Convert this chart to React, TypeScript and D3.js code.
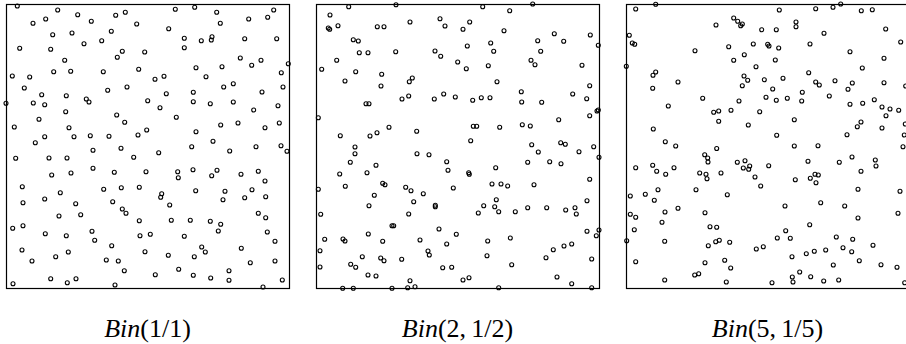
import * as d3 from 'd3';
import React, { useEffect, useRef } from 'react';

// point positions inside each unit box (0..283 across, 0..284 down from the top edge)
const binOne: [number, number][] = [
  [11.3, 2], [51.7, 6], [71.7, 10.7], [109.7, 11.3], [119.3, 8.3], [39.7, 15], [27, 19.3], [85.3, 17.3],
  [130.7, 20], [105.3, 27.3], [46.7, 30.7], [66, 29], [95.7, 36.7], [78, 39.7], [13.7, 44.3], [44.7, 45.3],
  [116.3, 47.3], [138.7, 48], [111.3, 53.3], [58.7, 56.3], [132.7, 65.3], [47.7, 67.7], [64.7, 67.3],
  [97.3, 67.7], [6.3, 72], [23.7, 73], [18.3, 84], [101.7, 86.3], [121, 83], [35.7, 90.7], [60.3, 91.7],
  [80.3, 95], [83, 98], [0, 99.3], [27.3, 99], [38.7, 100.7], [141.7, 96.7], [59.7, 107.7], [110.7, 111],
  [33, 115.3], [118.7, 118.3], [8.3, 123], [63, 123.7], [140.7, 126], [38.7, 132.7], [68, 132.7],
  [84.3, 131.7], [103, 132.3], [132, 131], [29.3, 138.7],
  [169.3, 5.3], [188.7, 3.3], [210.7, 8.3], [267.7, 6], [242.7, 15], [261.7, 13.3], [214.3, 19.3],
  [162.7, 24.7], [178.3, 34.3], [206, 32.7], [205.3, 36], [195.3, 36.7], [238.7, 34.7], [270.7, 34.7],
  [178.3, 43.7], [234.3, 54], [255, 56.3], [245.7, 61.3], [282.3, 59.7], [190, 63.7], [216, 62.7],
  [275.3, 68.7], [158, 72.3], [149, 75.3], [200, 72.7], [227.3, 79.7], [217.7, 83], [277, 83],
  [160.3, 89.7], [187.3, 88.3], [256, 88], [187.3, 97.7], [204.3, 99.7], [227.3, 98], [154, 103.7],
  [247.7, 106], [272, 101.7], [170.3, 113.3], [214.7, 121], [232, 119], [259, 123.7], [273.3, 119],
  [190, 127.7], [207, 137.3],
  [87, 146.3], [115, 144.3], [9.7, 154.3], [43, 154], [61, 154], [127.7, 153.3], [87, 164.3], [45.7, 171],
  [65, 169], [108.3, 168.3], [140, 167.7], [16.3, 182.7], [54.3, 188.7], [97.7, 185.3], [115.3, 183.7],
  [133.3, 183.3], [38.7, 195], [17, 198.7], [69.7, 199.7], [106.7, 197.7], [116.3, 205], [120, 209.3],
  [53, 212], [74.7, 210.7], [133.3, 216.7], [6.7, 224.3], [17, 221.7], [39.3, 229.7], [60.3, 231.7],
  [86, 227.3], [88.7, 236.3], [134, 231.7], [105.7, 241.7], [16, 246], [62.3, 248], [49.7, 252.7],
  [139, 247.7], [26, 257], [100.3, 256], [112.3, 257], [118.3, 266.7], [44.7, 274.7], [61.3, 278.7],
  [70, 274.7], [7, 279.7], [109, 281],
  [152.7, 148.7], [185.7, 142.7], [223.7, 147], [250, 142.7], [275, 141.7], [281, 147.3], [171.7, 167.7],
  [172.3, 173.7], [187, 165.7], [211, 166.3], [205.7, 171.7], [235, 170.3], [252.3, 167.3], [259, 177],
  [189.7, 186.7], [155.7, 189.7], [154.7, 193.3], [163.7, 201], [219, 187.3], [217, 195.7], [246, 185.7],
  [238.7, 193.7], [259.7, 192.7], [252.3, 209.3], [259.7, 213.7], [165.3, 216.3], [184.3, 216.3],
  [204.3, 217.3], [214.7, 220.3], [212.3, 227], [144.3, 230.3], [178.3, 232.3], [261.3, 228], [269, 237.3],
  [195.7, 243], [199.3, 248], [235.3, 244.3], [162.3, 251.3], [188.3, 252.7], [244.3, 258.7], [269, 257],
  [172.7, 265.3], [223, 266.7], [149.3, 270.7], [187.3, 271.3], [204.7, 274], [223, 276.3], [276.3, 276],
  [257, 283],
];

const binTwo: [number, number][] = [
  [32.7, 2.7], [80, 0.7], [14, 11], [12.3, 24], [13.7, 25.3], [22, 21.7], [61.3, 22.7], [68, 22.7],
  [94, 18], [124, 14.7], [129, 22], [37.3, 35.7], [42.3, 37], [43.3, 48.7], [52, 48.7], [79.7, 47.7],
  [119, 47], [124.7, 52.3], [141.7, 58], [20.7, 56.3], [5.7, 65.3], [39.7, 67.7], [65.7, 70.3], [96.3, 74],
  [93.3, 77.7], [29, 77], [65, 82], [86, 95], [92.7, 92], [118.3, 95], [127.7, 90], [139.3, 93],
  [50, 99.7], [53, 99.7], [2.3, 113.7], [73, 123.3], [100.7, 127.3], [24.3, 131.7], [54, 132], [61, 128.7],
  [39, 143], [101, 149.7],
  [166.7, 2.7], [193.7, 6.7], [216.7, 0], [153.7, 18], [147, 25.3], [188, 26.7], [238.3, 29.7], [274.3, 31],
  [221.7, 36.7], [247.7, 37.3], [282.3, 41.3], [151.3, 42], [174.7, 39], [177.7, 47.3], [224.7, 47.3],
  [215, 56.3], [219, 60.7], [172.3, 61.7], [150.3, 64.7], [266, 61.3], [181, 77.7], [273.7, 81.7],
  [205.3, 87.7], [256.7, 90], [156.7, 96.3], [165.3, 93.7], [174, 93.7], [205.7, 98], [225.7, 98.3],
  [270.7, 94.7], [281, 107], [282.3, 106], [273.7, 111.7], [242.7, 115.7], [157.3, 122.3], [160.7, 122.3],
  [183.7, 123.3], [206.3, 120.7], [214.3, 122], [154.7, 136.7], [215.7, 140.7], [244.7, 138.7],
  [249.3, 140.3], [277.7, 142.7],
  [39, 149.7], [34.3, 158.3], [23.7, 170], [60, 161.3], [51, 168.7], [113, 150.7], [130.7, 157.7],
  [132, 166.3], [2.3, 185.3], [29.3, 182.3], [66.7, 179.3], [69, 180.7], [89.7, 183.3], [95, 186.7],
  [107.3, 189.7], [137.3, 184], [58.3, 191.3], [97.7, 197.7], [119.3, 201.3], [119.3, 202.7], [53, 201.7],
  [4.7, 210.3], [92.7, 210], [76, 221.7], [77.7, 221.7], [123, 225], [140.3, 230.3], [52.3, 230],
  [8.7, 235.3], [27, 235], [29, 237], [66.7, 237.3], [104, 236], [130.7, 240], [4, 246.7], [112, 247],
  [113.3, 251], [46.3, 252.7], [64.7, 254], [68, 256.7], [85.7, 255.3], [4, 263], [34.7, 260.3],
  [39.7, 263.3], [126.7, 263.7], [135.7, 263.3], [52, 271], [60, 272], [94, 276.7], [26.7, 284.3],
  [37.3, 284.3], [76, 284.3], [91.7, 283.7], [99, 282.7],
  [222.3, 148], [263, 147.7], [283, 153.3], [211.7, 158.3], [233.7, 157.7], [245, 159.7], [179.7, 163.7],
  [152.7, 168.7], [153.3, 170.3], [273.7, 175.3], [176, 180], [185, 180], [191.7, 182], [218, 180.7],
  [180.3, 195.7], [271, 196.7], [167.7, 201.7], [178.7, 202.7], [182.7, 207.7], [162.3, 209],
  [199.3, 207.7], [211.7, 203.7], [230.7, 203.7], [249.7, 206], [259, 203.7], [260.3, 210], [271, 227.3],
  [280.3, 231.7], [283, 226], [171.7, 237], [194.3, 234], [255.7, 240], [248, 242], [237.3, 245.7],
  [171, 251.7], [230, 253.7], [275.7, 255], [195.7, 260.7], [147, 276], [153, 273.7], [241, 273],
  [255.7, 279.7], [182.7, 283.7], [275.7, 283.7],
];

const binFive: [number, number][] = [
  [9.7, 5], [29.7, 0.3], [90, 21], [107.7, 14], [111.7, 17.3], [116.3, 20], [114.7, 21.7], [135.7, 25.7],
  [3.3, 31.3], [6.3, 39], [8.7, 40.3], [69, 46.7], [102.7, 42.7], [127.3, 40], [141.7, 40.3], [143, 42],
  [118.3, 50.7], [107.7, 56.3], [0.3, 62.3], [130, 62.7], [29.7, 68], [27, 71.3], [118, 72], [121.7, 76.3],
  [138.3, 75.7], [52, 78], [26.7, 84.3], [116.3, 81.7], [140, 93.3], [76.7, 94.3], [113, 97], [42.3, 102],
  [87.7, 108.3], [92.7, 107], [105, 106.3], [133.7, 107.7], [92.7, 117.3], [122.3, 121], [27.3, 125],
  [39.3, 137.7], [49.7, 142], [90.7, 144.5],
  [153.3, 6], [189.7, 4.7], [207, 3.3], [214.7, 0], [235.3, 6.7], [246.3, 5.7], [170, 18], [170, 22.7],
  [150.3, 25.7], [198, 29.3], [259.7, 25], [274.7, 38], [152.7, 44], [184, 40], [224, 47.7], [258, 54.3],
  [149.3, 56], [236.3, 64], [182.7, 68.7], [157, 74.3], [189.7, 78], [193.3, 81], [209, 76.7],
  [226.3, 79], [222, 85.3], [258, 78.7], [146.7, 85], [279.7, 82], [176.3, 88.3], [150.3, 96.3],
  [161.3, 94.3], [175.7, 97], [203.3, 92], [224, 100.3], [236.7, 99.3], [248.3, 95.7], [256, 103],
  [264, 105], [272.7, 106.3], [260, 111.7], [168.3, 115.7], [235, 118], [231.3, 122.7], [256, 124],
  [279.3, 120], [150.7, 131.3], [221, 130.7], [278.3, 131], [168.3, 142], [192, 141.7], [277, 142.7],
  [78.7, 150.7], [81.7, 154], [82, 158], [9.7, 163.7], [26.7, 161.3], [30.7, 167.3], [39.7, 170.3],
  [48, 163.7], [73.7, 169], [80, 170.3], [81, 174.7], [95, 169], [111.3, 158.3], [119, 156.7],
  [117.3, 164], [122.7, 165.3], [123.7, 162], [142.7, 161.7], [129, 173], [134.7, 182], [4.3, 192],
  [19.3, 190.3], [32, 185.7], [28.3, 196.3], [70, 185.7], [101.3, 190.7], [4.3, 210.3], [9.7, 213.3],
  [39, 208], [52, 204.3], [79, 208.7], [36, 218.3], [8.3, 225.7], [84, 222.7], [90.7, 223.3],
  [0.7, 236.7], [38.7, 237.3], [89.7, 237.7], [93.3, 236.3], [103.7, 238.3], [82.3, 241.7], [130.3, 245],
  [137.3, 242.7], [9.7, 257.7], [79, 258.7], [98.7, 256.3], [104.7, 264], [68.7, 271], [72.7, 269.7],
  [38.7, 276], [100.3, 278],
  [182, 157.3], [213.3, 158.3], [226, 153], [249.3, 156], [250, 162], [235, 167.3], [169.3, 175.7],
  [184.3, 174.3], [189, 170.3], [192.3, 171], [190, 178.7], [232, 185.3], [274, 187.3], [159, 202],
  [194.7, 198.7], [218.7, 202], [272, 209.3], [232, 214], [183.7, 220.7], [159.7, 226.7], [151.3, 234],
  [164.3, 234.3], [210.3, 233], [226.7, 235.3], [247, 241.3], [166, 252.7], [180.3, 249.7], [188.3, 247.3],
  [199.7, 246], [217, 243.7], [225.7, 247.7], [233.3, 256.7], [207.3, 261], [255, 260.7], [271, 263.3],
  [173.7, 268], [166.3, 273], [167, 278], [184.7, 272.7], [197.7, 277], [212.7, 276], [146, 278.7],
  [278.7, 278.7],
];

const panelData = [binOne, binTwo, binFive];
const panelNames = ['Bin', 'Bin', 'Bin'];
const panelArgs = ['(1/1)', '(2,\u20091/2)', '(5,\u20091/5)'];

export default function App() {
  const ref = useRef<SVGSVGElement>(null);

  useEffect(() => {
    const svg = d3.select(ref.current);
    svg.selectAll('*').remove();

    const boxW = 283;
    const boxH = 284;
    const lefts = [6, 316, 626];
    const top = 4;

    panelData.forEach((pts, i) => {
      const x = d3.scaleLinear().domain([0, 283]).range([lefts[i], lefts[i] + boxW]);
      const y = d3.scaleLinear().domain([0, 284]).range([top, top + boxH]);

      const g = svg.append('g');

      g.append('rect')
        .attr('x', lefts[i] + 0.5)
        .attr('y', top + 0.5)
        .attr('width', boxW)
        .attr('height', boxH)
        .style('fill', 'none')
        .style('stroke', '#000')
        .style('stroke-width', 1.2);

      g.selectAll('circle')
        .data(pts)
        .enter()
        .append('circle')
        .attr('cx', d => x(d[0]))
        .attr('cy', d => y(d[1]))
        .attr('r', 2)
        .style('fill', 'none')
        .style('stroke', '#000')
        .style('stroke-width', 1.1);

      const label = g.append('text')
        .attr('x', lefts[i] + boxW / 2)
        .attr('y', 337)
        .attr('text-anchor', 'middle')
        .style('font-family', '"Liberation Serif", "DejaVu Serif", serif')
        .style('font-size', '26px')
        .style('fill', '#000');

      label.append('tspan').style('font-style', 'italic').text(panelNames[i]);
      label.append('tspan').text(panelArgs[i]);
    });
  }, []);

  return (
    <svg
      ref={ref}
      width={906}
      height={344}
      style={{ position: 'absolute', left: 0, top: 0, background: '#fff' }}
    />
  );
}
